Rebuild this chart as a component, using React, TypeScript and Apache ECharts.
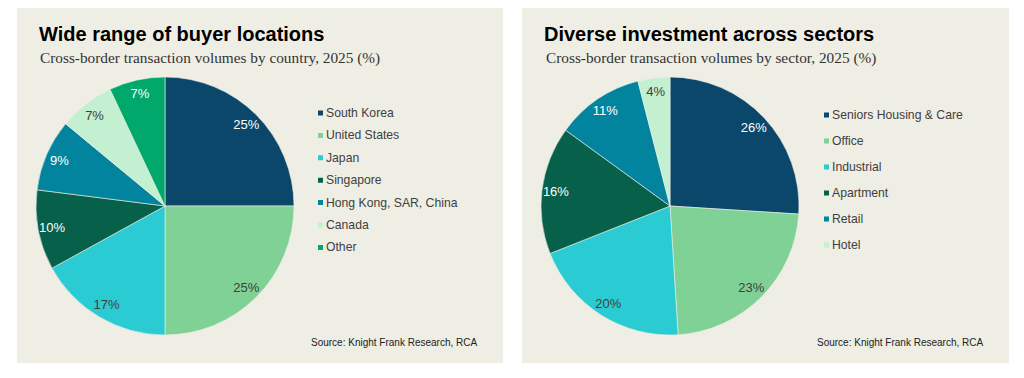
import React, { useEffect, useRef } from "react";
import * as echarts from "echarts";

const countryNames = ["South Korea", "United States", "Japan", "Singapore", "Hong Kong, SAR, China", "Canada", "Other"];
const countryValues = [25, 25, 17, 10, 9, 7, 7];
const countryColors = ["#0B466B", "#7FD196", "#2BCBD3", "#07604A", "#02849E", "#C4F0D2", "#00A86B"];
const countryLabelColors = ["#FFFFFF", "#404040", "#404040", "#FFFFFF", "#FFFFFF", "#404040", "#FFFFFF"];

const sectorNames = ["Seniors Housing & Care", "Office", "Industrial", "Apartment", "Retail", "Hotel"];
const sectorValues = [26, 23, 20, 16, 11, 4];
const sectorColors = ["#0B466B", "#7FD196", "#2BCBD3", "#07604A", "#02849E", "#C4F0D2"];
const sectorLabelColors = ["#FFFFFF", "#404040", "#404040", "#FFFFFF", "#FFFFFF", "#404040"];

const PANEL = "#EFEEE4";
const SANS = "'Liberation Sans', Arial, sans-serif";
const SERIF = "'Liberation Serif', 'DejaVu Serif', serif";

function pieSeries(names: string[], values: number[], colors: string[], center: number[]) {
  return {
    type: "pie",
    center,
    radius: 129,
    startAngle: 90,
    clockwise: true,
    silent: true,
    label: { show: false },
    labelLine: { show: false },
    itemStyle: { borderColor: PANEL, borderWidth: 0.6 },
    data: names.map((n, i) => ({ name: n, value: values[i], itemStyle: { color: colors[i] } })),
  };
}

function labelSeries(names: string[], values: number[], labelColors: string[], center: number[]) {
  return {
    type: "pie",
    center,
    radius: 224,
    startAngle: 90,
    clockwise: true,
    silent: true,
    itemStyle: { color: "rgba(0,0,0,0)" },
    label: {
      show: true,
      position: "inside",
      formatter: "{c}%",
      fontFamily: SANS,
      fontSize: 13,
    },
    labelLine: { show: false },
    data: names.map((n, i) => ({ name: n, value: values[i], label: { color: labelColors[i] } })),
  };
}

export default function App() {
  const ref = useRef<HTMLDivElement>(null);
  useEffect(() => {
    if (!ref.current) return;
    const chart = echarts.init(ref.current, null, { renderer: "svg" });
    chart.setOption({
      animation: false,
      backgroundColor: "#FFFFFF",
      graphic: [
        { type: "rect", shape: { x: 17, y: 8, width: 486, height: 355 }, style: { fill: PANEL }, z: -10 },
        { type: "rect", shape: { x: 522, y: 8, width: 487, height: 355 }, style: { fill: PANEL }, z: -10 },
      ],
      title: [
        { text: "Wide range of buyer locations", left: 39, top: 24, padding: 0, textStyle: { fontFamily: SANS, fontSize: 20, fontWeight: "bold", color: "#000000" } },
        { text: "Cross-border transaction volumes by country, 2025 (%)", left: 40, top: 50, padding: 0, textStyle: { fontFamily: SERIF, fontSize: 15.3, fontWeight: "normal", color: "#333333" } },
        { text: "Source: Knight Frank Research, RCA", left: 311, top: 337, padding: 0, textStyle: { fontFamily: SANS, fontSize: 10, fontWeight: "normal", color: "#222222" } },
        { text: "Diverse investment across sectors", left: 544, top: 24, padding: 0, textStyle: { fontFamily: SANS, fontSize: 20, fontWeight: "bold", color: "#000000" } },
        { text: "Cross-border transaction volumes by sector, 2025 (%)", left: 546, top: 50, padding: 0, textStyle: { fontFamily: SERIF, fontSize: 15.3, fontWeight: "normal", color: "#333333" } },
        { text: "Source: Knight Frank Research, RCA", left: 817, top: 337, padding: 0, textStyle: { fontFamily: SANS, fontSize: 10, fontWeight: "normal", color: "#222222" } },
      ],
      legend: [
        {
          data: countryNames,
          orient: "vertical",
          left: 316,
          top: 107,
          padding: 0,
          itemWidth: 7,
          itemHeight: 7,
          itemGap: 10.4,
          icon: "rect",
          selectedMode: false,
          textStyle: { fontFamily: SANS, fontSize: 12.2, color: "#404040", padding: [0, 0, 0, -3] },
        },
        {
          data: sectorNames,
          orient: "vertical",
          left: 822,
          top: 109,
          padding: 0,
          itemWidth: 7,
          itemHeight: 7,
          itemGap: 14,
          icon: "rect",
          selectedMode: false,
          textStyle: { fontFamily: SANS, fontSize: 12.2, color: "#404040", padding: [0, 0, 0, -3] },
        },
      ],
      series: [
        pieSeries(countryNames, countryValues, countryColors, [165, 206]),
        pieSeries(sectorNames, sectorValues, sectorColors, [670, 206]),
        labelSeries(countryNames, countryValues, countryLabelColors, [165, 206]),
        labelSeries(sectorNames, sectorValues, sectorLabelColors, [670, 206]),
      ],
    });
    return () => chart.dispose();
  }, []);
  return <div ref={ref} style={{ position: "fixed", left: 0, top: 0, width: 1024, height: 378 }} />;
}
